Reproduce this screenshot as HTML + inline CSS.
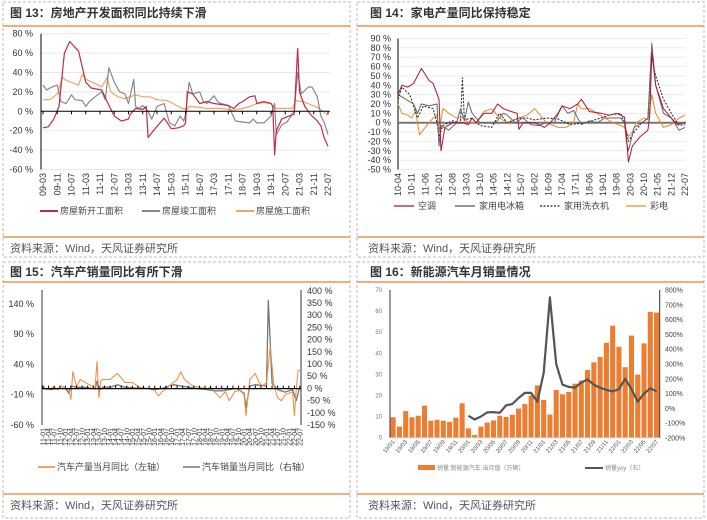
<!DOCTYPE html>
<html><head><meta charset="utf-8">
<style>
body{margin:0;background:#fff;}
svg{display:block;font-family:"Liberation Sans","Noto Sans CJK SC",sans-serif;}
.ttl{font-size:12px;font-weight:bold;fill:#333;}
.src{font-size:11px;fill:#555;}
.tk{font-size:9px;fill:#333;}
.lg{font-size:9px;fill:#444;}
</style></head><body>
<svg id="s" width="707" height="520" viewBox="0 0 707 520">
<g fill="none" stroke="#bbb" stroke-dasharray="3,2">
<rect x="3" y="2" width="347" height="255"/>
<rect x="357" y="2" width="347" height="255"/>
<rect x="3" y="262" width="347" height="256"/>
<rect x="357" y="262" width="347" height="256"/>
</g>
<g>
<text class="ttl" x="10" y="17">图 13：房地产开发面积同比持续下滑</text>
<line x1="3" y1="26" x2="350" y2="26" stroke="#ED7D31" stroke-width="1.2"/>
<line x1="3" y1="237" x2="350" y2="237" stroke="#ED7D31" stroke-width="1.2"/>
<text class="src" x="10" y="252">资料来源：Wind，天风证券研究所</text>
</g>
<g>
<text class="ttl" x="370" y="17">图 14：家电产量同比保持稳定</text>
<line x1="357" y1="26" x2="704" y2="26" stroke="#ED7D31" stroke-width="1.2"/>
<line x1="357" y1="237" x2="704" y2="237" stroke="#ED7D31" stroke-width="1.2"/>
<text class="src" x="368" y="252">资料来源：Wind，天风证券研究所</text>
</g>
<g>
<text class="ttl" x="10" y="276">图 15：汽车产销量同比有所下滑</text>
<line x1="3" y1="282" x2="350" y2="282" stroke="#ED7D31" stroke-width="1.2"/>
<line x1="3" y1="494" x2="350" y2="494" stroke="#ED7D31" stroke-width="1.2"/>
<text class="src" x="10" y="509">资料来源：Wind，天风证券研究所</text>
</g>
<g>
<text class="ttl" x="370" y="276">图 16：新能源汽车月销量情况</text>
<line x1="357" y1="282" x2="704" y2="282" stroke="#ED7D31" stroke-width="1.2"/>
<line x1="357" y1="494" x2="704" y2="494" stroke="#ED7D31" stroke-width="1.2"/>
<text class="src" x="368" y="509">资料来源：Wind，天风证券研究所</text>
</g>
<g id="c1"></g>
<g id="c2"></g>
<g id="c3"></g>
<g id="c4"></g>
</svg>
<script>
// ---- Chart 13 data ([month index from 09-03, value %]) ----
const c1Ticks = [80,60,40,20,0,-20,-40,-60];
const c1Labels = ["09-03","09-11","10-07","11-03","11-11","12-07","13-03","13-11","14-07","15-03","15-11","16-07","17-03","17-11","18-07","19-03","19-11","20-07","21-03","21-11","22-07"];
const c1New = [[0,-17],[3,-16],[6,-8],[9,5],[12,60],[15,72],[20,62],[24,30],[27,24],[33,22],[36,10],[40,-5],[44,-10],[48,-8],[49,-3],[52,3],[56,2],[58,5],[59,-27],[62,-20],[68,-7],[72,-18],[76,-17],[79,-15],[80,-12],[81,20],[84,18],[88,8],[92,10],[96,8],[104,6],[107,3],[110,8],[112,10],[116,15],[119,16],[120,8],[124,10],[128,8],[129,5],[130,-45],[131,-20],[134,-8],[138,-5],[141,-3],[143,65],[144,20],[147,5],[150,-3],[154,-10],[156,-15],[158,-28],[160,-36]];
const c1Done = [[0,27],[2,22],[5,25],[8,27],[10,10],[13,8],[16,17],[18,12],[22,11],[24,5],[26,10],[30,16],[33,20],[35,12],[37,45],[40,30],[43,20],[46,18],[48,8],[51,33],[52,5],[54,3],[56,6],[59,0],[61,-8],[64,5],[68,8],[71,-12],[74,-15],[77,-5],[79,-10],[80,-3],[82,30],[84,18],[88,20],[90,10],[92,8],[96,16],[98,10],[100,8],[104,6],[108,-10],[112,-11],[116,-12],[118,-8],[120,-12],[124,-12],[128,-5],[130,8],[131,-24],[134,-14],[137,-11],[141,0],[143,40],[145,18],[149,25],[151,25],[154,15],[156,-5],[158,-12],[160,-24]];
const c1Build = [[0,12],[4,12],[8,18],[11,35],[13,32],[17,29],[20,27],[22,38],[24,33],[30,28],[33,25],[36,35],[38,20],[42,15],[46,13],[52,17],[56,15],[60,15],[64,12],[70,11],[74,7],[78,3],[81,2],[82,5],[88,4],[92,3],[100,3],[104,2],[106,1],[112,3],[116,5],[120,8],[124,9],[128,8],[130,3],[136,3],[140,3],[142,11],[146,10],[150,7],[154,4],[157,0],[160,-4]];
// ---- Chart 14 data ([month index from 10-04, value %]) ----
const c2Ticks = [90,80,70,60,50,40,30,20,10,0,-10,-20,-30,-40,-50];
const c2Labels = ["10-04","10-11","11-06","12-01","12-08","13-03","13-10","14-05","14-12","15-07","16-02","16-09","17-04","17-11","18-06","19-01","19-08","20-03","20-10","21-05","21-12","22-07"];
const c2AC = [[0,30],[2,40],[5,38],[8,42],[12,58],[16,45],[18,42],[21,25],[22,-30],[24,-5],[28,0],[33,0],[36,-2],[38,5],[40,0],[44,10],[48,10],[51,20],[54,15],[58,12],[61,10],[62,-7],[64,0],[70,0],[75,-5],[78,0],[82,10],[84,18],[88,15],[92,20],[94,25],[98,12],[104,10],[108,8],[112,10],[116,6],[117,-15],[118,-42],[120,-25],[124,-15],[128,-8],[129,10],[130,75],[132,40],[136,15],[140,5],[143,-2],[147,0]];
const c2Fridge = [[0,30],[4,25],[8,20],[10,10],[12,20],[16,18],[20,20],[21,-25],[22,-3],[26,-8],[30,0],[32,15],[34,2],[36,22],[38,10],[42,0],[46,0],[50,0],[54,10],[56,8],[60,0],[64,5],[68,-2],[72,-3],[76,0],[80,0],[84,18],[87,10],[90,13],[92,5],[94,-2],[98,2],[102,0],[106,5],[110,5],[114,5],[116,0],[117,-20],[118,-30],[121,-5],[125,0],[128,5],[130,85],[132,40],[136,10],[140,5],[144,-8],[147,-5]];
const c2Washer = [[0,25],[2,38],[6,30],[10,5],[13,18],[18,15],[20,0],[21,-15],[23,-3],[28,2],[32,0],[33,48],[34,3],[38,5],[40,0],[42,-3],[48,-5],[52,10],[56,0],[62,5],[66,5],[70,3],[76,5],[82,4],[88,-2],[96,0],[104,5],[108,8],[114,10],[116,0],[118,-20],[121,-10],[125,0],[128,5],[130,70],[132,50],[136,25],[140,10],[144,-3],[147,-2]];
const c2TV = [[0,20],[2,10],[5,8],[7,5],[9,13],[11,-13],[14,-5],[18,5],[20,8],[21,-10],[23,15],[26,10],[30,5],[34,5],[36,0],[40,0],[44,12],[48,15],[52,5],[56,0],[62,5],[66,8],[70,15],[72,10],[76,0],[82,-5],[86,-5],[90,0],[92,20],[94,15],[98,15],[102,10],[106,5],[110,0],[114,-3],[116,-5],[118,-15],[120,-10],[122,0],[126,5],[128,3],[130,30],[132,10],[136,-5],[140,-2],[144,5],[147,8]];
// ---- Chart 15 data ([month index from 11-01, value %]) ----
const c3LeftTicks = [140,90,40,-10,-60];
const c3RightTicks = [400,350,300,250,200,150,100,50,0,-50,-100,-150];
const c3Prod = [[0,5],[2,-2],[4,0],[6,3],[8,-2],[10,5],[12,0],[14,-3],[15,-18],[16,28],[18,3],[20,15],[24,8],[28,2],[29,45],[30,-15],[31,12],[32,15],[36,15],[40,25],[44,10],[48,10],[52,2],[56,0],[60,-3],[62,-12],[64,-5],[68,5],[72,15],[74,28],[76,15],[80,5],[84,2],[88,0],[90,2],[92,-5],[95,-15],[98,-5],[100,-20],[103,-5],[106,-3],[108,-10],[109,-45],[111,15],[114,25],[116,10],[118,5],[120,10],[122,70],[124,5],[126,-15],[128,-20],[130,-10],[132,-8],[134,-5],[135,-45],[136,0],[137,30],[138,30]];
const c3Sales = [[0,0],[4,-5],[8,0],[12,0],[14,-20],[15,10],[18,5],[22,5],[28,-2],[29,30],[30,-10],[32,5],[36,5],[40,15],[44,5],[52,0],[56,0],[60,-5],[64,0],[70,15],[74,10],[78,5],[82,0],[88,-5],[92,-10],[96,-10],[100,-5],[104,0],[108,-20],[109,-80],[111,10],[114,15],[120,10],[121,360],[123,20],[126,-5],[130,-15],[134,-5],[136,-50],[138,10]];
// ---- Chart 16 data ----
const c4Months = ["19/01","19/02","19/03","19/04","19/05","19/06","19/07","19/08","19/09","19/10","19/11","19/12","20/01","20/02","20/03","20/04","20/05","20/06","20/07","20/08","20/09","20/10","20/11","20/12","21/01","21/02","21/03","21/04","21/05","21/06","21/07","21/08","21/09","21/10","21/11","21/12","22/01","22/02","22/03","22/04","22/05","22/06","22/07"];
const c4Sales = [9.7,5.3,12.6,9.7,10.4,15.2,8.0,8.5,8.0,7.5,9.5,16.3,4.4,1.3,5.3,7.2,8.2,10.4,9.8,10.9,13.8,16.0,20.0,24.8,17.9,11.0,22.6,20.6,21.7,25.6,27.1,32.1,35.7,38.3,45.0,53.1,43.1,33.4,48.4,29.9,44.7,59.6,59.3];
const c4Yoy = [null,null,null,null,null,null,null,null,null,null,null,null,-50,-75,-55,-27,-25,-30,20,30,70,105,105,45,240,750,300,160,145,140,175,195,160,140,125,115,130,200,130,45,100,135,115];
const c4LeftTicks = [70,60,50,40,30,20,10,0];
const c4RightTicks = [800,700,600,500,400,300,200,100,0,-100,-200];

const NS = "http://www.w3.org/2000/svg";
function mk(parent, tag, attrs, text){
  const el = document.createElementNS(NS, tag);
  for (const k in attrs) el.setAttribute(k, attrs[k]);
  if (text !== undefined) el.textContent = text;
  parent.appendChild(el);
  return el;
}
function pathOf(pairs, xf, yf){
  return pairs.map((p,i)=>(i?"L":"M")+xf(p[0]).toFixed(1)+","+yf(p[1]).toFixed(1)).join(" ");
}

// ===== Chart 13 =====
(function(){
  const g = document.getElementById("c1");
  const x = m => 43 + m*285/160;
  const y = v => 111.3 - v*0.97;
  c1Ticks.forEach(t=>{
    if (t!==0) { const gl = mk(g,"line",{x1:41,x2:330,y1:y(t),y2:y(t),stroke:"#e8e8e8"});
        }
    const tx = mk(g,"text",{x:33,y:y(t)+3,"text-anchor":"end",class:"tk"}, t+" %");
     
  });
  const ax = mk(g,"line",{x1:41,x2:41,y1:y(80),y2:y(-60),stroke:"#000"});
   
  const series = [[c1Build,"#F4A460","build"],[c1Done,"#888","done"],[c1New,"#C0294F","new"]];
  series.forEach(s=>{
    const p = mk(g,"path",{d:pathOf(s[0],x,y),fill:"none",stroke:s[1],"stroke-width":1.2,"stroke-linejoin":"round"});
     
  });
  const za = mk(g,"line",{x1:41,x2:330,y1:y(0),y2:y(0),stroke:"#000"});
   
  c1Labels.forEach((l,i)=>{
    const xx = x(i*8);
    mk(g,"line",{x1:xx,x2:xx,y1:y(0),y2:y(0)+3,stroke:"#000"});
    const tx = mk(g,"text",{x:0,y:0,"text-anchor":"end",class:"tk",transform:`translate(${xx+3},173) rotate(-90)`}, l);
     
  });
  const lg = [["#C0294F","房屋新开工面积",40],["#888","房屋竣工面积",142],["#F4A460","房屋施工面积",236]];
  lg.forEach(e=>{
    const lgl = mk(g,"line",{x1:e[2],x2:e[2]+18,y1:211,y2:211,stroke:e[0],"stroke-width":2});
     
    const t = mk(g,"text",{x:e[2]+20,y:214,class:"lg"},e[1]);
     
  });
})();

// ===== Chart 14 =====
(function(){
  const g = document.getElementById("c2");
  const x = m => 44 + 354 + m*287/147;
  const y = v => 122.7 - v*0.936;
  c2Ticks.forEach(t=>{
    if (t!==0) { const gl = mk(g,"line",{x1:398,x2:686,y1:y(t),y2:y(t),stroke:"#ececec"});
        }
    const tx = mk(g,"text",{x:391,y:y(t)+3,"text-anchor":"end",class:"tk"}, t+" %");
     
  });
  const ax = mk(g,"line",{x1:398,x2:398,y1:y(90),y2:y(-50),stroke:"#000"});
   
  const za = mk(g,"line",{x1:398,x2:686,y1:y(0),y2:y(0),stroke:"#777","stroke-width":2});
   
  const series = [[c2TV,"#F08A24","tv",""],[c2Washer,"#222","washer","2,1.5"],[c2Fridge,"#666","fridge",""],[c2AC,"#B0123F","ac",""]];
  series.forEach(s=>{
    const a = {d:pathOf(s[0],x,y),fill:"none",stroke:s[1],"stroke-width":1,"stroke-linejoin":"round"};
    if (s[3]) a["stroke-dasharray"]=s[3];
    const p = mk(g,"path",a);
     
  });
  c2Labels.forEach((l,i)=>{
    const xx = x(i*7);
    const tx = mk(g,"text",{x:0,y:0,"text-anchor":"end",class:"tk",transform:`translate(${xx+3},173) rotate(-90)`}, l);
     
  });
  const lg = [["#B0123F","空调",394,""],["#555","家用电冰箱",455,""],["#222","家用洗衣机",540,"2,1.5"],["#F08A24","彩电",626,""]];
  lg.forEach(e=>{
    const a = {x1:e[2],x2:e[2]+20,y1:206,y2:206,stroke:e[0],"stroke-width":1.3};
    if (e[3]) a["stroke-dasharray"]=e[3];
    const lgl = mk(g,"line",a);
     
    const t = mk(g,"text",{x:e[2]+24,y:209,class:"lg"},e[1]);
     
  });
})();

// ===== Chart 15 =====
(function(){
  const g = document.getElementById("c3");
  const x = m => 43 + m*257/138;
  const yl = v => 388.6 - v*0.606;
  const yr = v => 388.4 - v*0.244;
  c3LeftTicks.forEach(t=>{
    const tx = mk(g,"text",{x:34,y:yl(t)+3,"text-anchor":"end",class:"tk"}, t+" %");
     
  });
  c3RightTicks.forEach(t=>{
    const tx = mk(g,"text",{x:307,y:yr(t)+3,class:"tk"}, t+" %");
     
  });
  const a1 = mk(g,"line",{x1:42,x2:42,y1:290,y2:425,stroke:"#333"});
   
  const a2 = mk(g,"line",{x1:301,x2:301,y1:290,y2:425,stroke:"#999","stroke-width":2});
   
  const p1 = mk(g,"path",{d:pathOf(c3Sales,x,yr),fill:"none",stroke:"#777","stroke-width":1.3,"stroke-linejoin":"round"});
   
  const p2 = mk(g,"path",{d:pathOf(c3Prod,x,yl),fill:"none",stroke:"#F08A3C","stroke-width":1,"stroke-linejoin":"round"});
   
  const za = mk(g,"line",{x1:42,x2:301,y1:yl(0),y2:yl(0),stroke:"#000","stroke-width":1.2});
   
  for (let m=0; m<=138; m+=3){
    const yy = 11 + Math.floor(m/12), mm = (m%12)+1;
    const l = yy+"-"+(mm<10?"0":"")+mm;
    mk(g,"line",{x1:x(m),x2:x(m),y1:yl(0)-3,y2:yl(0),stroke:"#000"});
    const tx = mk(g,"text",{x:0,y:0,"text-anchor":"end",style:"font-size:7px;fill:#333",transform:`translate(${x(m)+2.5},428) rotate(-90)`}, l);
     
  }
  const lg = [["#F4A460","汽车产量当月同比（左轴）",38],["#999","汽车销量当月同比（右轴）",183]];
  lg.forEach(e=>{
    const lgl = mk(g,"line",{x1:e[2],x2:e[2]+17,y1:467,y2:467,stroke:e[0],"stroke-width":2});
     
    const t = mk(g,"text",{x:e[2]+19,y:470,class:"lg"},e[1]);
     
  });
})();

// ===== Chart 16 =====
(function(){
  const g = document.getElementById("c4");
  const x0 = 390, x1 = 659.7, slot = (x1-x0)/c4Months.length;
  const yl = v => 437.7 - v*2.11;
  const yr = v => 408.4 - v*0.148;
  c4LeftTicks.forEach(t=>{
    const tx = mk(g,"text",{x:382,y:yl(t)+2,"text-anchor":"end",style:"font-size:6px;fill:#777"}, t);
     
  });
  c4RightTicks.forEach(t=>{
    const tx = mk(g,"text",{x:665,y:yr(t)+2.5,style:"font-size:7px;fill:#444"}, t+"%");
     
  });
  c4Sales.forEach((v,i)=>{
    const r = mk(g,"rect",{x:x0+i*slot+0.6,y:yl(v),width:slot-1.2,height:yl(0)-yl(v),fill:"#ED7D31"});
     
  });
  const a1 = mk(g,"line",{x1:x0,x2:x0,y1:290,y2:yl(0),stroke:"#333"});
   
  const a2 = mk(g,"line",{x1:x1,x2:x1,y1:290,y2:438,stroke:"#333"});
   
  const xa = mk(g,"line",{x1:x0,x2:x1,y1:yl(0),y2:yl(0),stroke:"#ccc"});
   
  const pts = [];
  c4Yoy.forEach((v,i)=>{ if (v!==null) pts.push([x0+(i+0.5)*slot, yr(v)]); });
  const d = pts.map((p,i)=>(i?"L":"M")+p[0].toFixed(1)+","+p[1].toFixed(1)).join(" ");
  const ln = mk(g,"path",{d:d,fill:"none",stroke:"#555","stroke-width":2.2,"stroke-linejoin":"round"});
   
  c4Months.forEach((l,i)=>{
    if (i%2) return;
    const xx = x0+(i+0.5)*slot;
    const tx = mk(g,"text",{x:0,y:0,"text-anchor":"end",style:"font-size:6px;fill:#555",transform:`translate(${xx+2},442) rotate(-50)`}, l);
     
  });
  const sw = mk(g,"rect",{x:418,y:465,width:17,height:5,fill:"#ED7D31"});
   
  const t1 = mk(g,"text",{x:437,y:470,style:"font-size:6px;fill:#888"},"销量:新能源汽车:当月值（万辆）");
   
  const sl = mk(g,"line",{x1:585,x2:603,y1:468,y2:468,stroke:"#555","stroke-width":2});
   
  const t2 = mk(g,"text",{x:605,y:470,style:"font-size:6px;fill:#888"},"销量yoy（右）");
   
})();
</script>
</body></html>
